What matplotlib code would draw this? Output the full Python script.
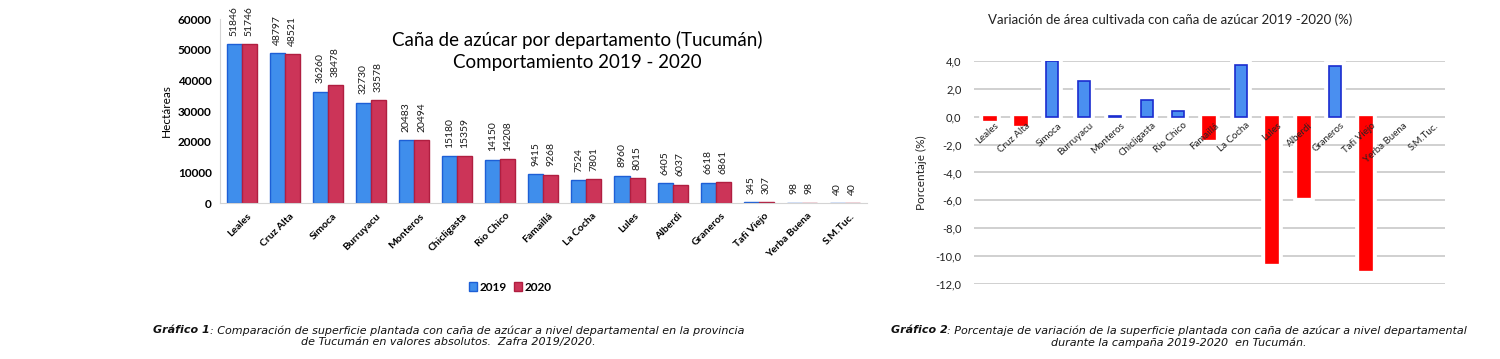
import numpy as np
import matplotlib.pyplot as plt
import matplotlib.transforms as mtransforms
from matplotlib.ticker import FuncFormatter

# Data
deptos = ['Leales', 'Cruz Alta', 'Simoca', 'Burruyacu', 'Monteros', 'Chicligasta',
          'Rio Chico', 'Famaillá', 'La Cocha', 'Lules', 'Alberdi', 'Graneros',
          'Tafi Viejo', 'Yerba Buena', 'S.M.Tuc.']
ha_2019 = [51846, 48797, 36260, 32730, 20483, 15180, 14150, 9415, 7524, 8960,
           6405, 6618, 345, 98, 40]
ha_2020 = [51746, 48521, 38478, 33578, 20494, 15359, 14208, 9268, 7801, 8015,
           6037, 6861, 307, 98, 40]
variacion = [-0.2, -0.57, 4.0, 2.6, 0.05, 1.18, 0.41, -1.56, 3.68, -10.5,
             -5.75, 3.67, -11.0, 0.0, 0.0]

plt.rcParams['font.family'] = ['Lato', 'DejaVu Sans']

fig = plt.figure(figsize=(15, 3.59), dpi=100)

# ---------------- Chart 1 ----------------
ax1 = fig.add_axes([0.1467, 0.4345, 0.431, 0.5125])
x = np.arange(len(deptos))
w = 0.35
b1 = ax1.bar(x - w / 2, ha_2019, w, color='#3f8eec', edgecolor='#1d5fd6', linewidth=1.0, label='2019')
b2 = ax1.bar(x + w / 2, ha_2020, w, color='#cc3458', edgecolor='#b01e40', linewidth=1.0, label='2020')

for bars in (b1, b2):
    for r in bars:
        ax1.annotate(f'{int(r.get_height())}', (r.get_x() + r.get_width() / 2, r.get_height()),
                     xytext=(0, 6), textcoords='offset points', rotation=90,
                     ha='center', va='bottom', fontsize=7.5, color='#1a1a1a')

ax1.set_xlim(-0.5, len(deptos) - 0.5)
ax1.set_ylim(0, 60000)
ax1.set_yticks(range(0, 60001, 10000))
ax1.tick_params(axis='y', length=0, labelsize=8.5, pad=6)
for t in ax1.get_yticklabels():
    t.set_fontweight('bold')
ax1.set_xticks(x)
ax1.set_xticklabels(deptos, rotation=45, ha='right', rotation_mode='anchor',
                    fontsize=7.5, fontweight='bold')
ax1.tick_params(axis='x', length=0, pad=6)
off = mtransforms.ScaledTranslation(0.05, 0, fig.dpi_scale_trans)
for t in ax1.get_xticklabels():
    t.set_transform(t.get_transform() + off)
for s in ('top', 'right'):
    ax1.spines[s].set_visible(False)
for s in ('left', 'bottom'):
    ax1.spines[s].set_color('#d4d4d4')
ax1.set_ylabel('Hectáreas', fontsize=8.5, labelpad=4)
fig.text(0.385, 0.858, 'Caña de azúcar por departamento (Tucumán)\nComportamiento 2019 - 2020',
         ha='center', va='center', fontsize=13.5, linespacing=1.35)
leg = ax1.legend(loc='center', bbox_to_anchor=(0.34, 0.2), bbox_transform=fig.transFigure,
                 ncol=2, frameon=False, handlelength=0.7, handleheight=0.7,
                 handletextpad=0.2, columnspacing=0.6, prop={'weight': 'bold', 'size': 8.5})

# ---------------- Chart 2 ----------------
ax2 = fig.add_axes([0.6493, 0.209, 0.314, 0.621])
cols = ['#4a8ff0' if v > 0 else ('#ff0000' if v < 0 else 'none') for v in variacion]
edges = ['#1a2ccf' if v > 0 else ('#ff0000' if v < 0 else 'none') for v in variacion]
halo = ['white' if v != 0 else 'none' for v in variacion]
ax2.bar(x, variacion, 0.38, color=halo, edgecolor=halo, linewidth=7, zorder=1)
ax2.bar(x, variacion, 0.38, color=cols, edgecolor=edges, linewidth=1.2, zorder=2)
ax2.set_xlim(-0.5, len(deptos) - 0.5)
ax2.set_ylim(-12, 4)
ax2.set_yticks(np.arange(-12, 4.1, 2))
ax2.yaxis.set_major_formatter(FuncFormatter(lambda v, p: f'{v:.1f}'.replace('.', ',')))
ax2.tick_params(axis='y', length=0, labelsize=8, pad=9, labelcolor='#222222')
ax2.grid(axis='y', color='#c8c8c8', linewidth=1.2)
ax2.yaxis.set_zorder(0.5)
ax2.xaxis.set_zorder(3)
for s in ('top', 'right', 'left'):
    ax2.spines[s].set_visible(False)
ax2.spines['bottom'].set_position(('data', 0))
ax2.spines['bottom'].set_visible(False)
ax2.set_xticks(x)
ax2.set_xticklabels(deptos, rotation=42, ha='right', rotation_mode='anchor',
                    fontsize=7, color='#222222')
ax2.tick_params(axis='x', length=0, pad=3)
off2 = mtransforms.ScaledTranslation(0.05, 0, fig.dpi_scale_trans)
for t in ax2.get_xticklabels():
    t.set_transform(t.get_transform() + off2)
ax2.set_ylabel('Porcentaje (%)', fontsize=8.5, labelpad=6, color='#222222')
fig.text(0.78, 0.945, 'Variación de área cultivada con caña de azúcar 2019 -2020 (%)',
         ha='center', va='center', fontsize=9.5, color='#222222')

# ---------------- Captions ----------------
renderer = fig.canvas.get_renderer()


def caption(cx, y, bold, rest, line2):
    cap = dict(family='DejaVu Sans', fontsize=8, style='italic', color='#111111')
    t1 = fig.text(0, y, bold, fontweight='bold', va='center', ha='left', **cap)
    t2 = fig.text(0, y, rest, va='center', ha='left', **cap)
    w1 = t1.get_window_extent(renderer).width / fig.bbox.width
    w2 = t2.get_window_extent(renderer).width / fig.bbox.width
    x0 = cx - (w1 + w2) / 2
    t1.set_x(x0)
    t2.set_x(x0 + w1)
    fig.text(cx, y - 0.034, line2, va='center', ha='center', **cap)


caption(0.299, 0.080, 'Gráfico 1',
        ': Comparación de superficie plantada con caña de azúcar a nivel departamental en la provincia',
        'de Tucumán en valores absolutos.  Zafra 2019/2020.')
caption(0.786, 0.080, 'Gráfico 2',
        ': Porcentaje de variación de la superficie plantada con caña de azúcar a nivel departamental',
        'durante la campaña 2019-2020  en Tucumán.')

fig.savefig('out.png', dpi=100)
